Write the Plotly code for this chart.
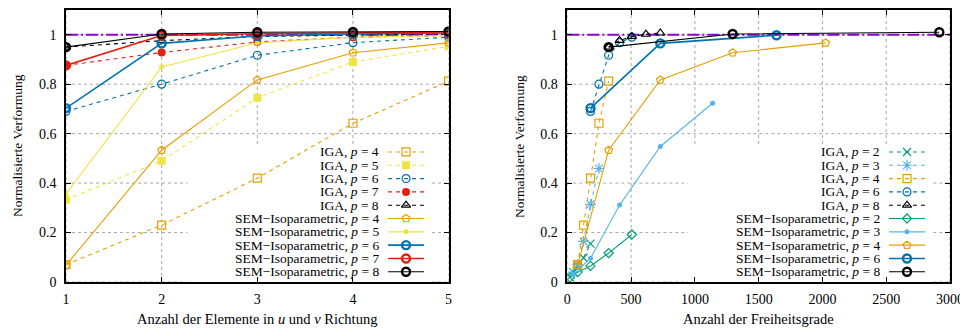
import plotly.graph_objects as go

# ---------------- data ----------------
ELEMENTS = [1, 2, 3, 4, 5]
EXACT = 1.0

# left plot: normalised deformation vs number of elements
L_IGA = {
    4: [0.070, 0.230, 0.420, 0.642, 0.812],
    5: [0.333, 0.490, 0.745, 0.890, 0.953],
    6: [0.690, 0.800, 0.917, 0.968, 0.990],
    7: [0.876, 0.928, 0.971, 0.990, 0.997],
    8: [0.950, 0.976, 0.993, 0.999, 1.004],
}
L_SEM = {
    4: [0.068, 0.533, 0.817, 0.927, 0.967],
    5: [0.356, 0.870, 0.967, 0.990, 0.997],
    6: [0.703, 0.965, 0.995, 1.003, 1.007],
    7: [0.876, 0.997, 1.004, 1.008, 1.011],
    8: [0.950, 1.003, 1.010, 1.011, 1.013],
}

# right plot: normalised deformation vs degrees of freedom
R_IGA_DOF = {
    2: [20, 46, 81, 127, 182],
    3: [46, 81, 127, 182, 248],
    4: [81, 127, 182, 248, 324],
    6: [182, 248, 324, 410, 506],
    8: [324, 410, 506, 616, 729],
}
R_IGA_VAL = {
    2: [0.020, 0.040, 0.068, 0.098, 0.155],
    3: [0.040, 0.070, 0.164, 0.314, 0.459],
    4: [0.070, 0.230, 0.420, 0.642, 0.812],
    6: [0.690, 0.800, 0.917, 0.968, 0.990],
    8: [0.950, 0.977, 0.993, 1.002, 1.007],
}
R_SEM_DOF = {
    2: [20, 81, 182, 324, 506],
    3: [46, 182, 410, 729, 1139],
    4: [81, 324, 729, 1296, 2025],
    6: [182, 729, 1640],
    8: [324, 1296, 2916],
}
R_SEM_VAL = {
    2: [0.018, 0.040, 0.065, 0.117, 0.192],
    3: [0.030, 0.096, 0.311, 0.548, 0.723],
    4: [0.068, 0.533, 0.817, 0.927, 0.967],
    6: [0.703, 0.965, 0.998],
    8: [0.950, 1.003, 1.010],
}

Y_TICKS = [0, 0.2, 0.4, 0.6, 0.8, 1]
Y_TICKTEXT = ["0", "0.2", "0.4", "0.6", "0.8", "1"]
X_TICKS_LEFT = [1, 2, 3, 4, 5]
X_TICKS_RIGHT = [0, 500, 1000, 1500, 2000, 2500, 3000]

# ---------------- styles ----------------
FONT = "Liberation Serif"
COL = {2: "#009e73", 3: "#56b4e9", 4: "#e69f00", 5: "#f0e442",
       6: "#0072b2", 7: "#e51e10", 8: "#000000"}
IGA_SYM = {2: ("x-thin-open", 8, 1.2), 3: ("asterisk-open", 9, 1.2),
           4: ("square-open", 8, 1.2), 5: ("square", 8, 0),
           6: ("circle-open", 8, 1.2), 7: ("circle", 8, 0),
           8: ("triangle-up-open", 8, 1.2)}
SEM_SYM = {2: ("diamond-open", 7, 1.2), 3: ("circle", 5, 0),
           4: ("pentagon-open", 8, 1.2), 5: ("circle", 5, 0),
           6: ("circle-open", 8, 2.4), 7: ("circle-open", 8, 2.4),
           8: ("circle-open", 8, 2.4)}
IGA_DASH = "4px,4px"


def marker(method, p):
    sym, size, lw = (IGA_SYM if method == "IGA" else SEM_SYM)[p]
    return dict(symbol=sym, size=size, color=COL[p],
                line=dict(color=COL[p], width=lw))


def line(method, p):
    w = 1.6 if (method == "SEM" and p in (6, 7)) else 1.1
    return dict(color=COL[p], width=w, dash=IGA_DASH if method == "IGA" else "solid")


def label(method, p):
    name = "IGA" if method == "IGA" else "SEM\u2212Isoparametric"
    return f"{name}, <i>p</i> = {p}"


fig = go.Figure()

# left plot traces
left_entries = []
for p, vals in L_IGA.items():
    fig.add_trace(go.Scatter(x=ELEMENTS, y=vals, mode="lines+markers",
                             line=line("IGA", p), marker=marker("IGA", p),
                             xaxis="x", yaxis="y", showlegend=False))
    left_entries.append(("IGA", p))
for p, vals in L_SEM.items():
    fig.add_trace(go.Scatter(x=ELEMENTS, y=vals, mode="lines+markers",
                             line=line("SEM", p), marker=marker("SEM", p),
                             xaxis="x", yaxis="y", showlegend=False))
    left_entries.append(("SEM", p))

# right plot traces
right_entries = []
for p in R_IGA_DOF:
    fig.add_trace(go.Scatter(x=R_IGA_DOF[p], y=R_IGA_VAL[p], mode="lines+markers",
                             line=line("IGA", p), marker=marker("IGA", p),
                             xaxis="x2", yaxis="y2", showlegend=False))
    right_entries.append(("IGA", p))
for p in R_SEM_DOF:
    fig.add_trace(go.Scatter(x=R_SEM_DOF[p], y=R_SEM_VAL[p], mode="lines+markers",
                             line=line("SEM", p), marker=marker("SEM", p),
                             xaxis="x2", yaxis="y2", showlegend=False))
    right_entries.append(("SEM", p))

# custom gnuplot-like legends (text right-aligned, sample key on the right)
LEG_FONT = dict(family=FONT, size=13.5, color="black")
annotations = []
for entries, xa, ya in ((left_entries, "x3", "y3"), (right_entries, "x4", "y4")):
    for i, (method, p) in enumerate(entries):
        fig.add_trace(go.Scatter(x=[0, 0.5, 1], y=[i, i, i], mode="lines+markers",
                                 line=line(method, p), marker=marker(method, p),
                                 marker_opacity=[0, 1, 0],
                                 xaxis=xa, yaxis=ya, showlegend=False,
                                 hoverinfo="skip"))
        annotations.append(dict(x=0, y=i, xref=xa, yref=ya, text=label(method, p),
                                showarrow=False, xanchor="right", yanchor="middle",
                                xshift=-8, borderpad=0, font=LEG_FONT))

# axis titles
xtitle_font = dict(family=FONT, size=14.5, color="black")
ytitle_font = dict(family=FONT, size=13.5, color="black")
annotations += [
    dict(x=0.2166, y=-0.135, xref="paper", yref="paper", showarrow=False,
         text="Anzahl der Elemente in <i>u</i> und <i>v</i> Richtung",
         xanchor="center", yanchor="middle", font=xtitle_font),
    dict(x=0.7834, y=-0.135, xref="paper", yref="paper", showarrow=False,
         text="Anzahl der Freiheitsgrade", xanchor="center", yanchor="middle",
         font=xtitle_font),
    dict(x=-0.0554, y=0.5, xref="paper", yref="paper", showarrow=False,
         text="Normalisierte Verformung", textangle=-90,
         xanchor="center", yanchor="middle", font=ytitle_font),
    dict(x=0.5124, y=0.5, xref="paper", yref="paper", showarrow=False,
         text="Normalisierte Verformung", textangle=-90,
         xanchor="center", yanchor="middle", font=ytitle_font),
]

# grid (drawn as shapes so that the opaque legend boxes can hide it)
GRID = dict(color="#a8a8a8", width=1, dash="dot")
shapes = []
for xa, ya, xticks in (("x", "y", X_TICKS_LEFT), ("x2", "y2", X_TICKS_RIGHT)):
    for v in xticks:
        shapes.append(dict(type="line", xref=xa, yref=ya + " domain", x0=v, x1=v,
                           y0=0, y1=1, line=GRID, layer="below"))
    for v in Y_TICKS:
        shapes.append(dict(type="line", xref=xa + " domain", yref=ya, x0=0, x1=1,
                           y0=v, y1=v, line=GRID, layer="below"))
# opaque legend boxes
for xr, yr, x0, x1, y1 in (("x domain", "y domain", 0.317, 0.957, 0.504),
                           ("x2 domain", "y2 domain", 0.315, 0.9556, 0.50)):
    shapes.append(dict(type="rect", xref=xr, yref=yr, x0=x0, x1=x1, y0=0, y1=y1,
                       fillcolor="white", line=dict(width=0), layer="below"))
# exact reference value
for xr, yr in (("x domain", "y"), ("x2 domain", "y2")):
    shapes.append(dict(type="line", xref=xr, yref=yr, x0=0, x1=1, y0=EXACT, y1=EXACT,
                       line=dict(color="#9400d3", width=2, dash="12px,3px,2px,3px"),
                       layer="below"))

tick_font = dict(family=FONT, size=14, color="black")
common = dict(showline=True, linecolor="black", linewidth=1.5, mirror="ticks",
              ticks="inside", ticklen=5, tickcolor="black", tickwidth=1,
              showgrid=False, zeroline=False, tickfont=tick_font)

hidden = dict(visible=False, showgrid=False, zeroline=False, fixedrange=True)
LEG_Y = [0.0131, 0.5026]

# the page body has an 8px margin, so the figure is 8px smaller than the window
fig.update_layout(
    width=960, height=322,
    margin=dict(l=58, r=18, t=0, b=48),
    paper_bgcolor="white", plot_bgcolor="rgba(0,0,0,0)",
    showlegend=False,
    xaxis=dict(domain=[0, 0.4328], range=[1, 5], tickvals=X_TICKS_LEFT,
               anchor="y", ticklabelstandoff=3, **common),
    yaxis=dict(domain=[0, 1], range=[0, 1.1], tickvals=Y_TICKS, ticktext=Y_TICKTEXT,
               anchor="x", ticklabelstandoff=5, **common),
    xaxis2=dict(domain=[0.5671, 1], range=[0, 3000], tickvals=X_TICKS_RIGHT,
                anchor="y2", ticklabelstandoff=3, **common),
    yaxis2=dict(domain=[0, 1], range=[0, 1.1], tickvals=Y_TICKS, ticktext=Y_TICKTEXT,
                anchor="x2", ticklabelstandoff=5, **common),
    xaxis3=dict(domain=[0.3643, 0.405], range=[0, 1], anchor="y3", **hidden),
    yaxis3=dict(domain=LEG_Y, range=[9.5, -0.5], anchor="x3", **hidden),
    xaxis4=dict(domain=[0.931, 0.9717], range=[0, 1], anchor="y4", **hidden),
    yaxis4=dict(domain=LEG_Y, range=[9.5, -0.5], anchor="x4", **hidden),
    annotations=annotations,
    shapes=shapes,
    font=dict(family=FONT, size=13, color="black"),
)

fig.write_html("out.html")
